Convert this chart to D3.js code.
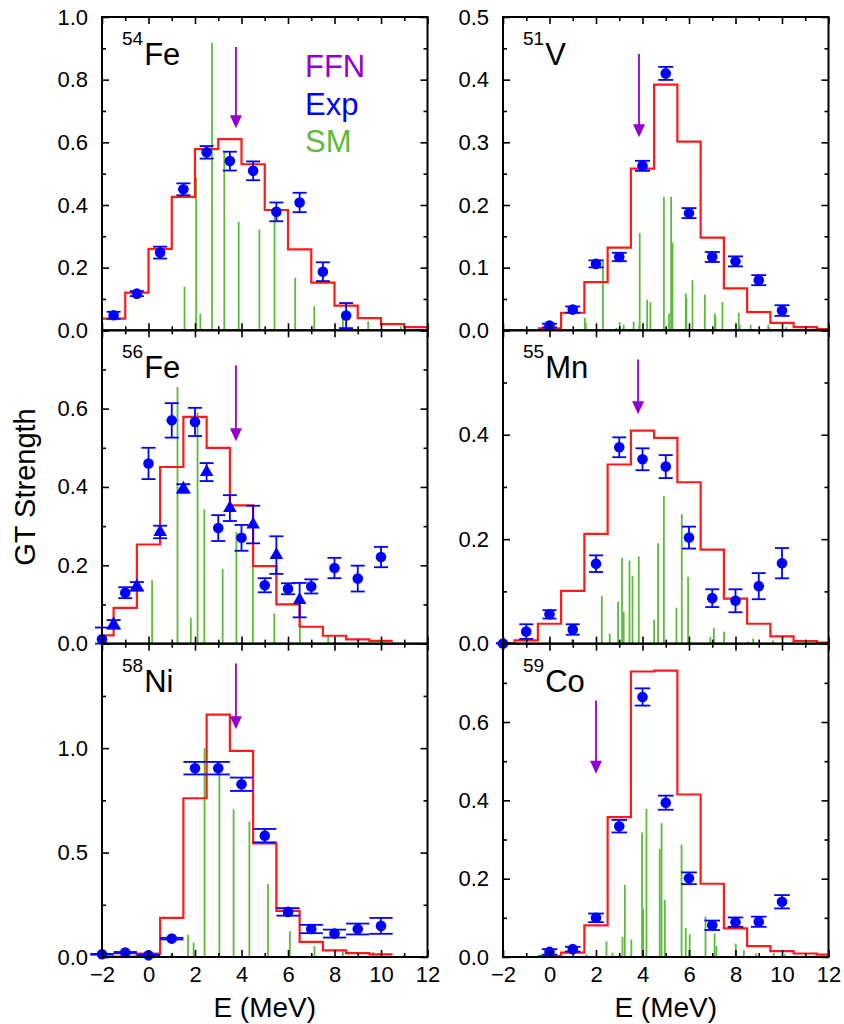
<!DOCTYPE html>
<html><head><meta charset="utf-8">
<script src="https://cdn.jsdelivr.net/npm/d3@7"></script>
<style>body{margin:0;background:#fff;} svg{display:block;}</style>
</head><body><svg id="c" width="844" height="1024"></svg>
<script>
// ---------------- DATA ----------------
const xTicks = [-2,-1,0,1,2,3,4,5,6,7,8,9,10,11,12];
const xTickLabels = [-2,0,2,4,6,8,10,12];
const legendLabels = ["FFN","Exp","SM"];

// 54Fe
const fe54HistEdges = [-2,-1,0,1,2,3,4,5,6,7,8,9,10,11,12];
const fe54HistValues = [0.037,0.12,0.26,0.426,0.578,0.61,0.53,0.384,0.258,0.152,0.079,0.039,0.02,0.01];
const fe54ExpE = [-1.5,-0.5,0.5,1.5,2.5,3.5,4.5,5.5,6.5,7.5,8.5];
const fe54ExpS = [0.048,0.117,0.248,0.45,0.568,0.54,0.509,0.378,0.408,0.187,0.047];
const fe54ExpErr = [0.011,0.008,0.019,0.019,0.02,0.03,0.03,0.03,0.031,0.03,0.04];
const fe54SmE = [0.98,1.55,2.05,2.23,2.73,3.26,3.88,4.77,5.42,6.31,7.13,8.36,9.45,10.85];
const fe54SmS = [0.004,0.139,0.488,0.053,0.918,0.568,0.346,0.322,0.38,0.168,0.077,0.045,0.029,0.013];
const fe54FFN = 3.76;

// 51V
const v51HistEdges = [-0.5,0.5,1.5,2.5,3.5,4.5,5.5,6.5,7.5,8.5,9.5,10.5,11.5,12];
const v51HistValues = [0.003,0.028,0.077,0.132,0.258,0.392,0.301,0.148,0.067,0.029,0.012,0.005,0.002];
const v51ExpE = [0,1,2,3,4,5,6,7,8,9,10];
const v51ExpS = [0.0075,0.033,0.106,0.117,0.2625,0.41,0.187,0.117,0.110,0.080,0.0315];
const v51ExpErr = [0.003,0.005,0.0056,0.0067,0.008,0.0104,0.008,0.008,0.008,0.008,0.0085];
const v51SmE = [1.52,1.56,2.30,2.88,3.02,3.19,3.62,3.86,3.88,4.20,4.34,4.92,5.14,5.23,5.29,5.86,5.89,6.15,6.68,7.11,7.14,7.44,8.14,8.18,8.65,9.41,9.45,10.17,10.98];
const v51SmS = [0.020,0.012,0.112,0.004,0.013,0.009,0.014,0.009,0.155,0.049,0.045,0.213,0.027,0.213,0.140,0.059,0.052,0.080,0.057,0.027,0.022,0.045,0.028,0.009,0.009,0.009,0.005,0.005,0.002];
const v51FFN = 3.85;

// 56Fe
const fe56HistEdges = [-2,-1.5,-0.5,0.5,1.5,2.5,3.5,4.5,5.5,6.5,7.5,8.5,9.5,10.5];
const fe56HistValues = [0.021,0.091,0.253,0.451,0.579,0.50,0.353,0.198,0.10,0.043,0.02,0.011,0.007];
const fe56CircE = [-2,-1,0,1,2,3,4,5,6,7,8,9,10];
const fe56CircS = [0.011,0.130,0.46,0.570,0.566,0.295,0.27,0.149,0.140,0.146,0.193,0.166,0.221];
const fe56CircErr = [0.03,0.014,0.04,0.044,0.036,0.033,0.033,0.018,0.014,0.018,0.026,0.033,0.026];
const fe56TriE = [-1.5,-0.5,0.5,1.5,2.5,3.5,4.5,5.5,6.5];
const fe56TriS = [0.049,0.146,0.285,0.396,0.438,0.346,0.304,0.226,0.111];
const fe56TriErr = [0.011,0.011,0.016,0.011,0.023,0.033,0.048,0.048,0.044];
const fe56SmE = [0.155,1.247,1.82,2.11,2.40,3.19,3.78,4.49,5.41,6.51,7.73,9.02,10.49];
const fe56SmS = [0.162,0.655,0.066,0.59,0.343,0.191,0.285,0.196,0.077,0.10,0.02,0.011,0.004];
const fe56FFN = 3.76;

// 55Mn
const mn55HistEdges = [-2,-1.5,-0.5,0.5,1.5,2.5,3.5,4.5,5.5,6.5,7.5,8.5,9.5,10.5,11.5,12];
const mn55HistValues = [0.001,0.006,0.038,0.101,0.21,0.343,0.408,0.394,0.309,0.18,0.086,0.038,0.014,0.005,0.002];
const mn55ExpE = [-2,-1,0,1,2,3,4,5,6,7,8,9,10];
const mn55ExpS = [0.0,0.023,0.056,0.027,0.153,0.376,0.353,0.339,0.203,0.087,0.082,0.110,0.154];
const mn55ExpErr = [0.001,0.014,0.008,0.010,0.016,0.019,0.021,0.022,0.021,0.017,0.022,0.025,0.029];
const mn55SmE = [0.0,0.97,2.16,2.25,2.59,2.95,3.12,3.19,3.44,3.57,3.84,4.50,4.67,4.92,5.46,5.69,5.96,6.92,7.07,7.51,8.55,8.76,9.62,10.48];
const mn55SmS = [0.006,0.008,0.002,0.091,0.019,0.080,0.164,0.061,0.159,0.130,0.167,0.046,0.192,0.283,0.069,0.248,0.128,0.013,0.030,0.023,0.004,0.010,0.006,0.004];
const mn55FFN = 3.81;

// 58Ni
const ni58HistEdges = [-2,-1.5,-0.5,0.5,1.5,2.5,3.5,4.5,5.5,6.5,7.5,8.5,9.5,10.5];
const ni58HistValues = [0.0,0.002,0.016,0.187,0.76,1.16,0.987,0.544,0.221,0.072,0.032,0.019,0.013];
const ni58ExpE = [-2,-1,0,1,2,3,4,5,6,7,8,9,10];
const ni58ExpS = [0.013,0.021,0.008,0.088,0.904,0.904,0.827,0.581,0.216,0.134,0.112,0.134,0.149];
const ni58ExpErr = [0.002,0.003,0.003,0.004,0.030,0.030,0.032,0.032,0.018,0.02,0.019,0.026,0.038];
const ni58SmE = [0.98,1.70,1.94,2.41,3.05,3.66,4.34,5.14,6.08,7.14,8.36,9.67,10.99];
const ni58SmS = [0.016,0.107,0.069,1.0,0.872,0.707,0.648,0.349,0.123,0.053,0.027,0.024,0.011];
const ni58FFN = 3.76;

// 59Co
const co59HistEdges = [-0.5,0.5,1.5,2.5,3.5,4.5,5.5,6.5,7.5,8.5,9.5,10.5,11.5,12];
const co59HistValues = [0.002,0.011,0.081,0.357,0.729,0.731,0.415,0.187,0.073,0.028,0.015,0.009,0.006];
const co59ExpE = [0,1,2,3,4,5,6,7,8,9,10];
const co59ExpS = [0.013,0.020,0.100,0.334,0.664,0.394,0.201,0.081,0.089,0.090,0.141];
const co59ExpErr = [0.007,0.006,0.011,0.016,0.022,0.018,0.015,0.012,0.012,0.013,0.017];
const co59SmE = [1.59,2.45,2.71,2.98,3.14,3.24,3.52,3.98,4.03,4.17,4.74,4.82,4.96,5.68,5.86,6.03,6.71,7.10,7.18,8.01,8.36,8.88,9.65,10.12,11.44];
const co59SmS = [0.007,0.040,0.011,0.004,0.051,0.184,0.045,0.318,0.124,0.378,0.276,0.342,0.146,0.287,0.074,0.058,0.103,0.060,0.028,0.034,0.017,0.009,0.010,0.007,0.004];
const co59FFN = 2.0;

// ---------------- PANEL SETUP ----------------
const panels = [
  {mass:"54",el:"Fe",col:0,row:0,ymax:1.0,minor:0.1,major:0.2,
   hist:[fe54HistEdges,fe54HistValues],sm:[fe54SmE,fe54SmS],
   series:[{type:"circle",E:fe54ExpE,S:fe54ExpS,err:fe54ExpErr}],
   ffn:fe54FFN,arrowTop:0.904,arrowTip:0.645,cap:7,legend:true},
  {mass:"51",el:"V",col:1,row:0,ymax:0.5,minor:0.05,major:0.1,
   hist:[v51HistEdges,v51HistValues],sm:[v51SmE,v51SmS],
   series:[{type:"circle",E:v51ExpE,S:v51ExpS,err:v51ExpErr}],
   ffn:v51FFN,arrowTop:0.441,arrowTip:0.308,cap:7.5},
  {mass:"56",el:"Fe",col:0,row:1,ymax:0.8,minor:0.1,major:0.2,
   hist:[fe56HistEdges,fe56HistValues],sm:[fe56SmE,fe56SmS],
   series:[{type:"circle",E:fe56CircE,S:fe56CircS,err:fe56CircErr},
           {type:"triangle",E:fe56TriE,S:fe56TriS,err:fe56TriErr}],
   ffn:fe56FFN,arrowTop:0.711,arrowTip:0.517,cap:7},
  {mass:"55",el:"Mn",col:1,row:1,ymax:0.6,minor:0.1,major:0.2,
   hist:[mn55HistEdges,mn55HistValues],sm:[mn55SmE,mn55SmS],
   series:[{type:"circle",E:mn55ExpE,S:mn55ExpS,err:mn55ExpErr}],
   ffn:mn55FFN,arrowTop:0.544,arrowTip:0.439,cap:7},
  {mass:"58",el:"Ni",col:0,row:2,ymax:1.5,minor:0.25,major:0.5,
   hist:[ni58HistEdges,ni58HistValues],sm:[ni58SmE,ni58SmS],
   series:[{type:"circle",E:ni58ExpE,S:ni58ExpS,err:ni58ExpErr}],
   ffn:ni58FFN,arrowTop:1.405,arrowTip:1.091,cap:11.6},
  {mass:"59",el:"Co",col:1,row:2,ymax:0.8,minor:0.1,major:0.2,
   hist:[co59HistEdges,co59HistValues],sm:[co59SmE,co59SmS],
   series:[{type:"circle",E:co59ExpE,S:co59ExpS,err:co59ExpErr}],
   ffn:co59FFN,arrowTop:0.655,arrowTip:0.468,cap:7.8}
];

// ---------------- DRAW ----------------
const FONT = '"Liberation Sans", Arial, Helvetica, sans-serif';
const C = {red:"#ff1a1a", blue:"#0000ff", green:"#5dbb3c", purple:"#9400d3"};
const colX = [102, 503], plotW = 325.5;
const rowY = [17, 330.3, 643.7], plotH = 313.3;
const svg = d3.select("#c").attr("font-family", FONT);
const fmtX = d => d < 0 ? "\u2212" + (-d) : String(d);

panels.forEach(p => {
  const x0 = colX[p.col], y0 = rowY[p.row];
  const g = svg.append("g").attr("transform", `translate(${x0},${y0})`);
  const x = d3.scaleLinear().domain([-2, 12]).range([0, plotW]);
  const y = d3.scaleLinear().domain([0, p.ymax]).range([plotH, 0]);

  // SM lines
  g.append("g").selectAll("line").data(d3.zip(p.sm[0], p.sm[1])).join("line")
    .attr("x1", d => x(d[0])).attr("x2", d => x(d[0]))
    .attr("y1", y(0)).attr("y2", d => y(d[1]))
    .attr("stroke", C.green).attr("stroke-width", 1.8);

  // histogram (red)
  const edges = p.hist[0], vals = p.hist[1];
  const pts = vals.map((v, i) => [edges[i], v]);
  pts.push([edges[edges.length - 1], vals[vals.length - 1]]);
  g.append("path")
    .attr("d", d3.line().x(d => x(d[0])).y(d => y(d[1])).curve(d3.curveStepAfter)(pts))
    .attr("fill", "none").attr("stroke", C.red).attr("stroke-width", 2.2);

  // Experimental series
  p.series.forEach(s => {
    const data = s.E.map((e, i) => ({e, v: s.S[i], err: s.err[i]}));
    const eg = g.append("g").attr("stroke", C.blue).attr("stroke-width", 1.8).attr("fill", "none");
    data.forEach(d => {
      const cx = x(d.e);
      const lo = y(Math.max(0, d.v - d.err)), hi = y(d.v + d.err);
      eg.append("line").attr("x1", cx).attr("x2", cx).attr("y1", lo).attr("y2", hi);
      eg.append("line").attr("x1", cx - p.cap).attr("x2", cx + p.cap).attr("y1", lo).attr("y2", lo);
      eg.append("line").attr("x1", cx - p.cap).attr("x2", cx + p.cap).attr("y1", hi).attr("y2", hi);
    });
    if (s.type === "circle") {
      g.append("g").selectAll("circle").data(data).join("circle")
        .attr("cx", d => x(d.e)).attr("cy", d => y(d.v)).attr("r", 5.3)
        .attr("fill", C.blue);
    } else {
      g.append("g").selectAll("path").data(data).join("path")
        .attr("transform", d => `translate(${x(d.e)},${y(d.v)})`)
        .attr("d", d3.symbol().type(d3.symbolTriangle).size(80))
        .attr("fill", C.blue);
    }
  });

  // FFN arrow
  const ax = x(p.ffn), tipY = y(p.arrowTip), topY = y(p.arrowTop);
  g.append("line").attr("x1", ax).attr("x2", ax).attr("y1", topY).attr("y2", tipY - 10)
    .attr("stroke", C.purple).attr("stroke-width", 1.8);
  g.append("path")
    .attr("d", `M${ax - 6},${tipY - 13}L${ax + 6},${tipY - 13}L${ax},${tipY}Z`)
    .attr("fill", C.purple);

  // Axes (ticks inward on all sides)
  const yMinor = d3.range(0, Math.round(p.ymax / p.minor) + 1).map(i => +(i * p.minor).toFixed(4));
  const isMaj = v => Math.abs(v / p.major - Math.round(v / p.major)) < 1e-6;
  const yMaj = yMinor.filter(isMaj);
  const yMin = yMinor.filter(v => !isMaj(v));
  const yLab = p.row === 0 ? yMaj : yMaj.filter(v => v < p.ymax - 1e-6);
  const xMaj = xTicks.filter(v => v % 2 === 0), xMin = xTicks.filter(v => v % 2 !== 0);

  function ax_(axis, tr) {
    const a = g.append("g").attr("transform", tr).call(axis);
    a.select(".domain").remove();
    a.selectAll("line").attr("stroke", "#000").attr("stroke-width", 1.6);
    return a;
  }
  // left
  ax_(d3.axisLeft(y).tickValues(yMin).tickSize(-4).tickFormat(""), "");
  ax_(d3.axisLeft(y).tickValues(yMaj).tickSize(-7).tickFormat(""), "");
  const la = ax_(d3.axisLeft(y).tickValues(yLab).tickSize(0).tickPadding(14).tickFormat(d3.format(".1f")), "");
  la.selectAll("text").attr("font-size", 22).attr("font-family", FONT).attr("fill", "#000");
  // right
  ax_(d3.axisRight(y).tickValues(yMin).tickSize(-4).tickFormat(""), `translate(${plotW},0)`);
  ax_(d3.axisRight(y).tickValues(yMaj).tickSize(-7).tickFormat(""), `translate(${plotW},0)`);
  // bottom
  ax_(d3.axisBottom(x).tickValues(xMin).tickSize(-4).tickFormat(""), `translate(0,${plotH})`);
  ax_(d3.axisBottom(x).tickValues(xMaj).tickSize(-7).tickFormat(""), `translate(0,${plotH})`);
  // top
  ax_(d3.axisTop(x).tickValues(xMin).tickSize(-4).tickFormat(""), "");
  ax_(d3.axisTop(x).tickValues(xMaj).tickSize(-7).tickFormat(""), "");
  if (p.row === 2) {
    const ba = ax_(d3.axisBottom(x).tickValues(xTickLabels).tickSize(0).tickPadding(9).tickFormat(fmtX), `translate(0,${plotH})`);
    ba.selectAll("text").attr("font-size", 22).attr("font-family", FONT).attr("fill", "#000");
  }

  // Frame
  g.append("rect").attr("x", 0).attr("y", 0).attr("width", plotW).attr("height", plotH)
    .attr("fill", "none").attr("stroke", "#000").attr("stroke-width", 2);

  // Nucleus label
  const t = g.append("text").attr("x", 20).attr("y", 48).attr("fill", "#000");
  t.append("tspan").attr("font-size", 19).attr("dy", -20).text(p.mass);
  t.append("tspan").attr("font-size", 31).attr("dy", 20).attr("dx", 1).text(p.el);

  // Legend
  if (p.legend) {
    const lc = [C.purple, C.blue, C.green];
    g.selectAll("text.leg").data(legendLabels).join("text").attr("class", "leg")
      .attr("x", 203).attr("y", (d, i) => 60 + i * 37.5)
      .attr("font-size", 31).attr("fill", (d, i) => lc[i]).text(d => d);
  }
});

// Axis titles
svg.append("text").attr("transform", "translate(35,487) rotate(-90)")
  .attr("text-anchor", "middle").attr("font-size", 29).attr("fill", "#000").text("GT Strength");
[0, 1].forEach(c => {
  svg.append("text").attr("x", colX[c] + plotW / 2).attr("y", 1017)
    .attr("text-anchor", "middle").attr("font-size", 28).attr("fill", "#000").text("E (MeV)");
});
</script></body></html>
